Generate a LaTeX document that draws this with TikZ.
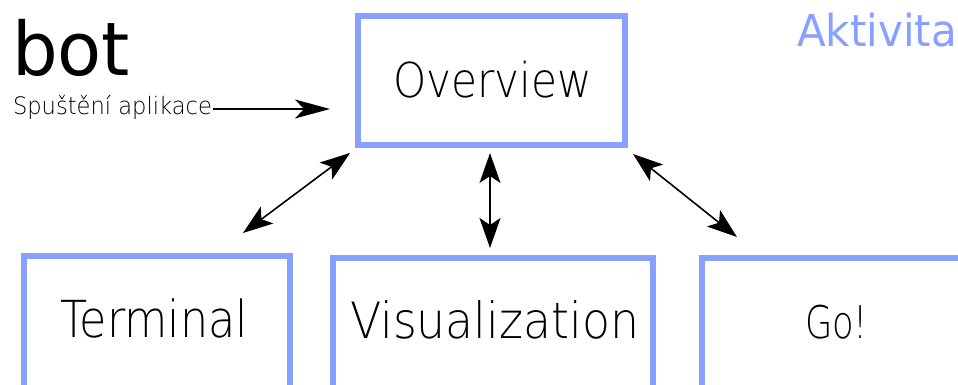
\documentclass[tikz,border=0pt]{standalone}
\usepackage{fontspec}
\setmainfont{DejaVu Sans}
\newfontfamily\thinfont{DejaVu Sans ExtraLight}
\usetikzlibrary{arrows.meta}
\definecolor{boxblue}{RGB}{136,160,255}
\newcommand{\fitw}[3]{\resizebox{#1pt}{\height}{\fontsize{#2}{#2}\selectfont #3}}
\tikzset{
  box/.style={draw=boxblue, line width=6pt, rectangle, inner sep=0pt, outer sep=0pt, anchor=north west},
  lbl/.style={anchor=base west, inner sep=0pt, outer sep=0pt, font=\thinfont},
  tip/.style={Stealth[length=30pt,width=21pt,inset=7pt]},
  dbl/.style={{Stealth[length=30pt,width=21pt,inset=7pt]}-{Stealth[length=30pt,width=21pt,inset=7pt]}, line width=1.6pt},
  sgl/.style={-{Stealth[length=35pt,width=19pt,inset=9pt]}, line width=1.6pt},
}
\begin{document}
\begin{tikzpicture}[x=1pt,y=-1pt]
\useasboundingbox[fill=white] (0,0) rectangle (958,385);
% boxes
\node[box, minimum width=267pt, minimum height=129pt] (ov) at (358,16) {};
\node[box, minimum width=266pt, minimum height=150pt] (term) at (24,256) {};
\node[box, minimum width=320pt, minimum height=150pt] (vis) at (333,258) {};
\node[box, minimum width=280pt, minimum height=150pt] (go) at (702,258) {};
% texts
\node[anchor=base west, inner sep=0pt] (logo) at (12,76) {\fitw{118}{74}{bot}};
\node[lbl] (start) at (13,115) {\fitw{199}{24}{Spuštění aplikace}};
\node[lbl] (ovT) at (393,98) {\fitw{199}{48}{Overview}};
\node[anchor=base west, inner sep=0pt, text=boxblue] (akt) at (797,47) {\fitw{160}{44}{Aktivita}};
\node[lbl] (termT) at (60,337) {\fitw{188}{51}{Terminal}};
\node[lbl] (visT) at (350,338) {\fitw{289}{50}{Visualization}};
\node[lbl] (goT) at (805,338) {\fitw{63}{45}{Go!}};
% connector end points
\coordinate (s1) at (213,109);
\coordinate (s2) at (330,109);
\coordinate (l1) at (243,233);
\coordinate (l2) at (350,153);
\coordinate (m1) at (490,153);
\coordinate (m2) at (490,248);
\coordinate (r1) at (633,154);
\coordinate (r2) at (737,237);
% connectors
\draw[sgl] (s1) -- (s2);
\draw[dbl] (l1) -- (l2);
\draw[dbl] (m1) -- (m2);
\draw[dbl] (r1) -- (r2);
\end{tikzpicture}
\end{document}
